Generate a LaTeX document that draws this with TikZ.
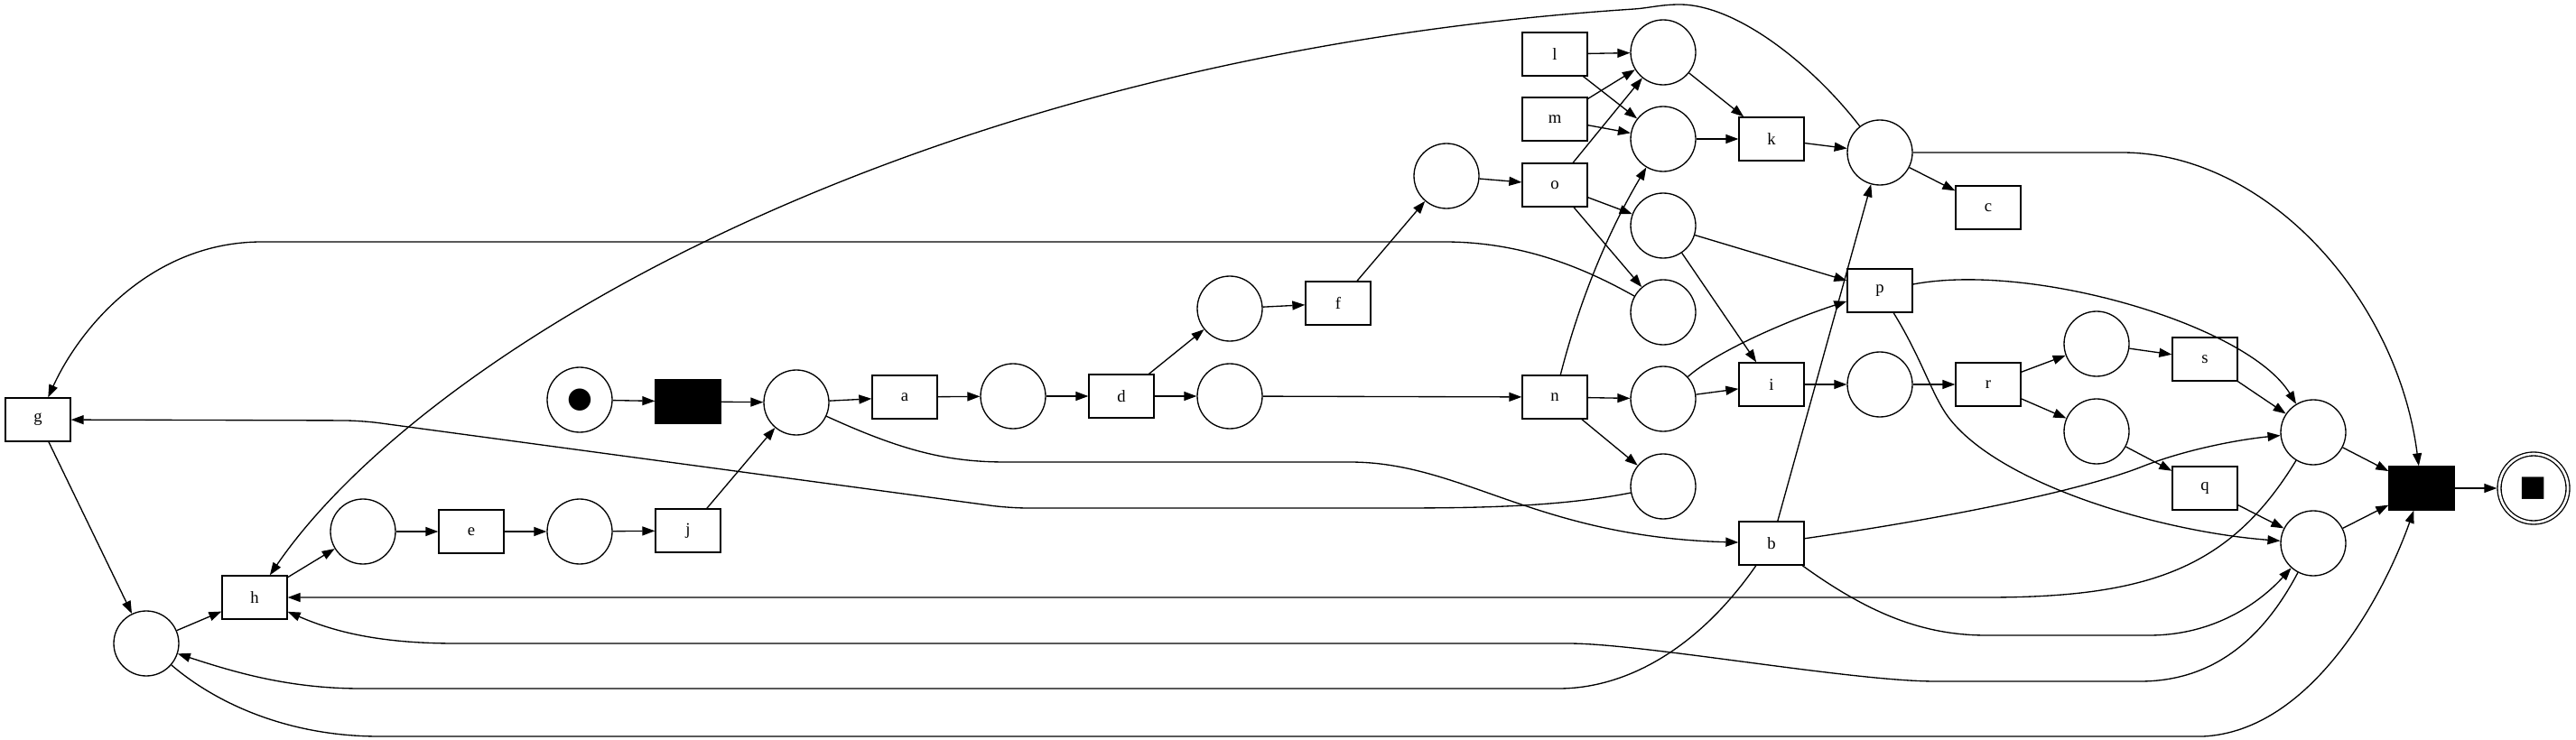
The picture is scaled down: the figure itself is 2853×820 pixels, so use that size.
\documentclass[tikz,border=0pt]{standalone}
\usepackage{fontspec}
\setmainfont{Liberation Serif}
\newfontfamily\symfont{DejaVu Sans}
\usetikzlibrary{arrows.meta}
\newcommand{\mkplace}[3]{\node[place] (#1) at (#2,#3) {};}
\newcommand{\mktrans}[4]{\node[trans] (#1) at (#2,#3) {#4};}

\begin{document}
\begin{tikzpicture}[x=0.75pt,y=-0.75pt,
	place/.style={draw,circle,minimum size=54pt,inner sep=0pt,line width=1pt},
	trans/.style={draw,rectangle,minimum width=54pt,minimum height=36pt,inner sep=0pt,line width=1pt,font=\fontsize{14pt}{16pt}\selectfont},
	tau/.style={trans,fill=black},
	flow/.style={-{Triangle[length=10.5pt,width=7.5pt]},line width=1pt}]
							% Fix the frame
							\useasboundingbox (0,0) rectangle (2853,820);
							
							% Making places
							\node[place] (src) at (642,443) {\symfont\fontsize{24pt}{24pt}\selectfont ●};
							\mkplace{p1}{882}{446}
							\mkplace{p2}{1122}{439}
							\mkplace{p3}{1362}{342}
							\mkplace{p4}{1362}{439}
							\mkplace{p5}{1602}{195}
							\mkplace{p6}{1842}{58}
							\mkplace{p7}{1842}{154}
							\mkplace{p8}{1842}{250}
							\mkplace{p9}{1842}{346}
							\mkplace{p10}{1842}{442}
							\mkplace{p11}{1842}{539}
							\mkplace{p12}{2082}{169}
							\mkplace{p13}{2082}{426}
							\mkplace{p14}{2322}{381}
							\mkplace{p15}{2322}{478}
							\mkplace{p16}{2562}{479}
							\mkplace{p17}{2562}{602}
							\mkplace{p18}{162}{713}
							\mkplace{p19}{402}{589}
							\mkplace{p20}{642}{589}
							\node[place,minimum size=57pt,double,double distance=2pt,outer sep=2pt] (sink) at (2806,541) {\symfont\fontsize{24pt}{24pt}\selectfont ■};
							
							% Making transitions
							\mktrans{trg}{42}{465}{g}
							\mktrans{trh}{282}{662}{h}
							\mktrans{tre}{522}{589}{e}
							\mktrans{trj}{762}{588}{j}
							\mktrans{tra}{1002}{440}{a}
							\mktrans{trd}{1242}{439}{d}
							\mktrans{trf}{1482}{336}{f}
							\mktrans{trl}{1722}{60}{l}
							\mktrans{trm}{1722}{132}{m}
							\mktrans{tro}{1722}{205}{o}
							\mktrans{trn}{1722}{440}{n}
							\mktrans{trk}{1962}{154}{k}
							\mktrans{tri}{1962}{426}{i}
							\mktrans{trb}{1962}{602}{b}
							\mktrans{trp}{2082}{322}{p}
							\mktrans{trc}{2202}{230}{c}
							\mktrans{trr}{2202}{426}{r}
							\mktrans{trs}{2442}{398}{s}
							\mktrans{trq}{2442}{541}{q}
							\node[tau] (tauin) at (762,445) {};
							\node[tau] (tauout) at (2682,541) {};
							
							% Straight arcs
							\foreach \a/\b in {src/tauin, tauin/p1, p1/tra, tra/p2, p2/trd, trd/p3, trd/p4, p3/trf, trf/p5, p5/tro, p4/trn, trn/p10, trn/p11, tro/p6, tro/p8, tro/p9, trl/p6, trl/p7, trm/p6, trm/p7, p6/trk, p7/trk, trk/p12, p12/trc, p8/trp, p8/tri, p10/tri, tri/p13, p13/trr, trr/p14, trr/p15, p14/trs, p15/trq, trs/p16, trq/p17, p16/tauout, p17/tauout, tauout/sink, trb/p12, trg/p18, p18/trh, trh/p19, p19/tre, tre/p20, p20/trj, trj/p1}
								\draw[flow] (\a) -- (\b);
							
							% Curved arcs
							\draw[flow] (trn) .. controls (1748,338) and (1778,262) .. (p7);
							\draw[flow] (p10) .. controls (1900,390) and (1980,355) .. (trp);
							\draw[flow] (trp) .. controls (2250,290) and (2490,360) .. (p16);
							\draw[flow] (trp) .. controls (2130,400) and (2140,440) .. (2160,465) .. controls (2220,540) and (2400,590) .. (p17);
							\draw[flow] (trb) .. controls (2150,575) and (2300,545) .. (2370,518) .. controls (2420,498) and (2480,487) .. (p16);
							\draw[flow] (trb) .. controls (2070,680) and (2130,704) .. (2200,704) -- (2380,704) .. controls (2460,704) and (2510,660) .. (p17);
							\draw[flow] (p12) -- (2350,169) .. controls (2510,169) and (2655,330) .. (tauout);
							
							% Long arcs back to the left
							\draw[flow] (p12) .. controls (2010,75) and (1925,5) .. (1860,5) .. controls (1840,5) and (1825,9) .. (1810,10) .. controls (1010,62) and (467,392) .. (trh);
							\draw[flow] (p9) .. controls (1760,300) and (1690,268) .. (1600,268) -- (290,268) .. controls (170,268) and (90,360) .. (trg);
							\draw[flow,rounded corners=15pt] (p11) .. controls (1720,563) and (1620,563) .. (1510,563) -- (1118,563) -- (400,466) -- (trg);
							\draw[flow] (p1) .. controls (1000,500) and (1050,512) .. (1114,512) -- (1495,512) .. controls (1620,512) and (1700,595) .. (trb);
							\draw[flow] (trb) .. controls (1880,720) and (1800,763) .. (1726,763) -- (400,763) .. controls (320,763) and (260,745) .. (p18);
							\draw[flow] (p16) .. controls (2470,630) and (2380,662) .. (2200,662) -- (trh);
							\draw[flow] (p17) .. controls (2500,720) and (2440,755) .. (2370,755) -- (2144,755) .. controls (2050,755) and (1820,713) .. (1737,713) -- (505,713) .. controls (420,713) and (370,700) .. (trh);
							\draw[flow] (p18) .. controls (240,780) and (320,816) .. (420,816) -- (2440,816) .. controls (2560,810) and (2640,660) .. (tauout);
							
						\end{tikzpicture}
\end{document}
